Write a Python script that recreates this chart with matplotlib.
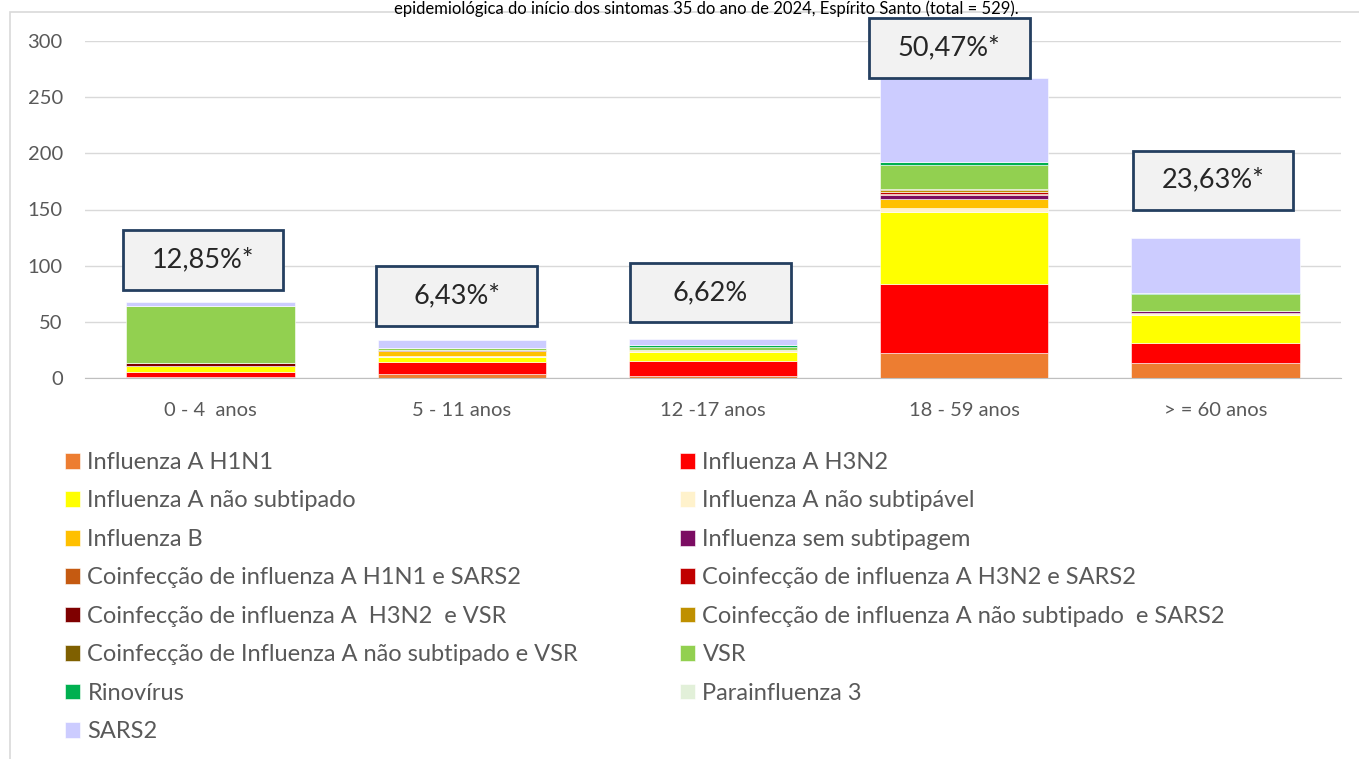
import numpy as np
import matplotlib.pyplot as plt
from matplotlib.patches import Rectangle

plt.rcParams['font.family'] = ['Lato', 'DejaVu Sans']

faixas = ["0 - 4  anos", "5 - 11 anos", "12 -17 anos", "18 - 59 anos", "> = 60 anos"]
percentuais = ["12,85%*", "6,43%*", "6,62%", "50,47%*", "23,63%*"]

# series (bottom to top), one value per age group
h1n1 = [1, 4, 2, 22, 13]
h3n2 = [4, 10, 13, 62, 18]
a_nao_subtipado = [6, 5, 8, 64, 25]
a_nao_subtipavel = [0, 1, 1, 3, 2]
infl_b = [0, 4, 1, 8, 0]
sem_subtipagem = [0, 0, 0, 4, 2]
co_h1n1_sars2 = [0, 0, 0, 1, 0]
co_h3n2_sars2 = [0, 0, 0, 2, 0]
co_h3n2_vsr = [2, 1, 0, 0, 0]
co_naosub_sars2 = [0, 0, 0, 1, 0]
co_naosub_vsr = [0, 0, 0, 1, 0]
vsr = [51, 2, 3, 22, 15]
rinovirus = [0, 0, 1, 2, 1]
parainfluenza3 = [0, 0, 0, 0, 0]
sars2 = [4, 7, 6, 75, 49]

series = [
    ("Influenza A H1N1", h1n1, "#ED7D31"),
    ("Influenza A H3N2", h3n2, "#FF0000"),
    ("Influenza A não subtipado", a_nao_subtipado, "#FFFF00"),
    ("Influenza A não subtipável", a_nao_subtipavel, "#FFF2CC"),
    ("Influenza B", infl_b, "#FFC000"),
    ("Influenza sem subtipagem", sem_subtipagem, "#7B0C62"),
    ("Coinfecção de influenza A H1N1 e SARS2", co_h1n1_sars2, "#C55A11"),
    ("Coinfecção de influenza A H3N2 e SARS2", co_h3n2_sars2, "#C00000"),
    ("Coinfecção de influenza A  H3N2  e VSR", co_h3n2_vsr, "#7F0000"),
    ("Coinfecção de influenza A não subtipado  e SARS2", co_naosub_sars2, "#BF9000"),
    ("Coinfecção de Influenza A não subtipado e VSR", co_naosub_vsr, "#7F6000"),
    ("VSR", vsr, "#92D050"),
    ("Rinovírus", rinovirus, "#00B050"),
    ("Parainfluenza 3", parainfluenza3, "#E2F0D9"),
    ("SARS2", sars2, "#CCCCFF"),
]

txt = "#595959"
fig = plt.figure(figsize=(13.59, 7.59), dpi=100)
W, H = 1359, 759
ax = fig.add_axes([85 / W, 1 - 378 / H, 1256 / W, 337 / H])

x = np.arange(len(faixas))
bottom = np.zeros(len(faixas))
handles = []
for nome, vals, cor in series:
    b = ax.bar(x, vals, 0.67, bottom=bottom, color=cor, label=nome,
               edgecolor="white", linewidth=0.4)
    handles.append(b)
    bottom += np.array(vals)

ax.set_xlim(-0.5, len(faixas) - 0.5)
ax.set_ylim(0, 300)
ax.set_yticks(range(0, 301, 50))
ax.set_xticks(x)
ax.set_xticklabels(faixas)
ax.grid(axis="y", color="#d9d9d9", linewidth=1)
ax.set_axisbelow(True)
for s in ["top", "right", "left"]:
    ax.spines[s].set_visible(False)
ax.spines["bottom"].set_color("#bfbfbf")
ax.tick_params(length=0, labelsize=14.5, colors=txt)
ax.tick_params(axis="x", pad=17)
ax.tick_params(axis="y", pad=16)

# percentage boxes
box_y = [105, 73, 76, 294, 176]
box_x = [-0.03, -0.02, -0.01, -0.06, -0.01]
for i, (p, yc) in enumerate(zip(percentuais, box_y)):
    xc = x[i] + box_x[i]
    ax.add_patch(Rectangle((xc - 0.32, yc - 26.5), 0.64, 53, facecolor="#F2F2F2",
                           edgecolor="#243F60", linewidth=2, zorder=5, clip_on=False))
    ax.text(xc, yc, p, ha="center", va="center", fontsize=19.5, color="#262626", zorder=6)

# legend: two columns placed separately
leg_kw = dict(loc="upper left", frameon=False, fontsize=17, handlelength=0.65,
              handleheight=0.65, handletextpad=0.3, labelspacing=0.74,
              borderpad=0, borderaxespad=0, labelcolor=txt)
esq = list(range(0, 15, 2))
dir_ = list(range(1, 15, 2))
fig.legend([handles[i] for i in esq], [series[i][0] for i in esq],
           bbox_to_anchor=(65 / W, 1 - 452 / H), **leg_kw)
fig.legend([handles[i] for i in dir_], [series[i][0] for i in dir_],
           bbox_to_anchor=(680 / W, 1 - 452 / H), **leg_kw)

# chart area border and title
fig.add_artist(Rectangle((10 / W, -0.01), 1.1, 1 - 12 / H + 0.01, transform=fig.transFigure,
                         fill=False, edgecolor="#d9d9d9", linewidth=1.2))
fig.text(0.52, 1.0, "epidemiológica do início dos sintomas 35 do ano de 2024, Espírito Santo (total = 529).",
         ha="center", va="top", fontsize=12, color="#000000")

fig.savefig("out.png", dpi=100)
